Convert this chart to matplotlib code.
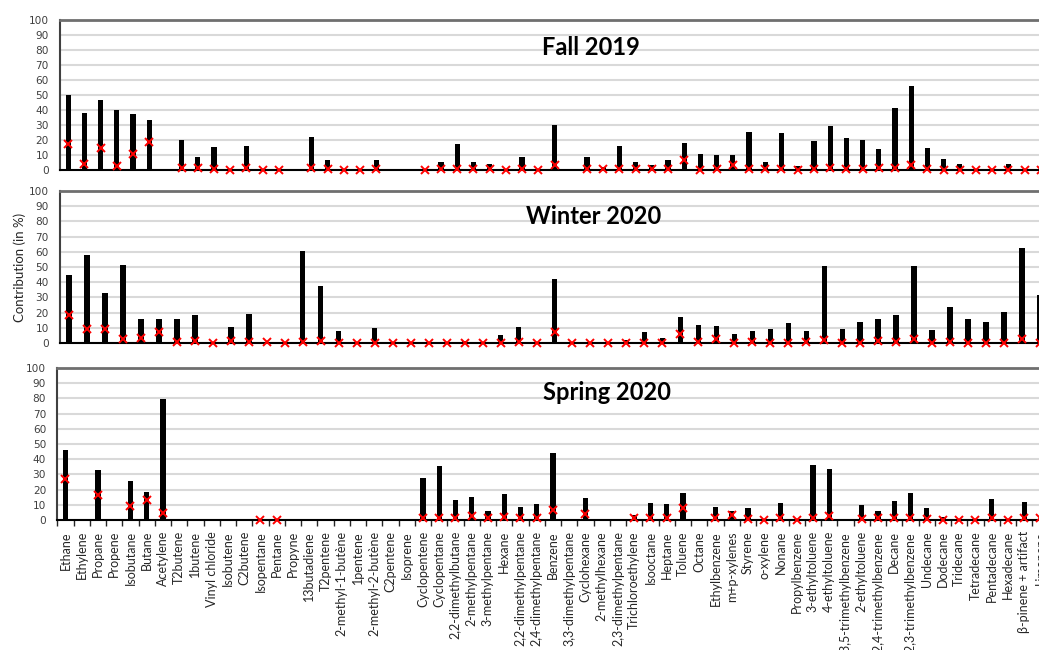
import numpy as np
import matplotlib
matplotlib.use('Agg')
import matplotlib.pyplot as plt

nan = np.nan

# species names (shown under the bottom panel)
species = ['Ethane', 'Ethylene', 'Propane', 'Propene', 'Isobutane', 'Butane', 'Acetylene',
           'T2butene', '1butene', 'Vinyl chloride', 'Isobutene', 'C2butene', 'Isopentane',
           'Pentane', 'Propyne', '13butadiene', 'T2pentene', '2-methyl-1-butène', '1pentene',
           '2-methyl-2-butène', 'C2pentene', 'Isoprene', 'Cyclopentene', 'Cyclopentane',
           '2,2-dimethylbutane', '2-methylpentane', '3-methylpentane', 'Hexane',
           '2,2-dimethylpentane', '2,4-dimethylpentane', 'Benzene', '3,3-dimethylpentane',
           'Cyclohexane', '2-methylhexane', '2,3-dimethylpentane', 'Trichloroethylene',
           'Isooctane', 'Heptane', 'Toluene', 'Octane', 'Ethylbenzene', 'm+p-xylenes',
           'Styrene', 'o-xylene', 'Nonane', 'Propylbenzene', '3-ethyltoluene', '4-ethyltoluene',
           '1,3,5-trimethylbenzene', '2-ethyltoluene', '1,2,4-trimethylbenzene', 'Decane',
           '1,2,3-trimethylbenzene', 'Undecane', 'Dodecane', 'Tridecane', 'Tetradecane',
           'Pentadecane', 'Hexadecane', 'β-pinene + artifact', 'Limonene']

# Fall 2019 : bars + red crosses
fall_bar = [50, 37.5, 46.4, 40, 37, 33, nan, 20, 8.5, 15.2, 0, 16, 0, 0, nan, 22, 6.5, 0, 0,
            6.5, nan, nan, 0, 4.7, 17, 4.7, 3.6, 0, 8.5, 0, 29.5, nan, 8.5, 2, 16, 4.7, 3.3,
            6.5, 17.9, 10.3, 9.8, 9.4, 24.8, 4.7, 24.3, 2.2, 18.8, 28.8, 20.8, 19.9, 13.4,
            41.3, 55.8, 14.5, 6.9, 3.8, 0, 0, 3.8, 0, 0]
fall_x = [17, 3.6, 14.5, 2.2, 10.3, 18.5, nan, 0.7, 0.7, 0.3, 0, 0.7, 0, 0, nan, 0.8, 0.3, 0, 0,
          0.3, nan, nan, 0, 0.3, 0.5, 0.5, 0.3, 0, 0.5, 0, 3, nan, 0.3, 0.3, 0.3, 0.3, 0.3,
          0.3, 6.3, 0, 0.3, 2.7, 0.3, 0.5, 0.3, 0, 0.3, 1, 0.3, 0.3, 0.8,
          0.8, 2.7, 0.3, 0, 0, 0, 0, 0, 0, 0]

# Winter 2020
winter_bar = [45, 57.6, 32.7, 51.2, 15.6, 15.6, 16, 18.5, 0, 10.3, 18.9, 0, 0, 60.2, 37.8, 7.7,
              0, 9.9, 0, 0, 0, 0, 1, 0, 5.3, 10.5, 0, 42.4, 0, 0, 0, 2.2, 7.3, 3.1, 17.4, 11.9,
              11, 5.7, 8.1, 9, 13.4, 8.1, 50.8, 9.5, 13.6, 16, 18.2, 50.8, 8.6, 23.7, 15.6,
              13.6, 20.7, 62.4, 31.4]
winter_x = [18.5, 9.2, 9.2, 2.6, 3.5, 7.3, 0.7, 1.1, 0, 1.1, 0.7, 0.5, 0, 0.7, 1.1, 0,
            0, 0, 0, 0, 0, 0, 0.3, 0, 0, 0.5, 0, 7, 0, 0, 0, 0, 0, 0, 6.2, 0.7,
            2.9, 0, 0.7, 0, 0, 0.7, 2.2, 0, 0, 1.5, 0.7, 2.4, 0, 0.7, 0,
            0, 0, 2.4, 0]

# Spring 2020
spring_bar = [45.9, nan, 32.7, nan, 25.5, 18.2, 79.6, nan, nan, nan, nan, nan, 0, 0, nan, nan,
              nan, nan, nan, nan, nan, nan, 27.9, 35.2, 13.4, 15.4, 5.7, 17.1, 8.6, 10.3, 44.4,
              nan, 14.3, nan, nan, 3.1, 11, 10.8, 18, nan, 8.6, 5.7, 8.1, 0, 11.2, 0, 36, 33.8,
              nan, 9.9, 5.7, 12.5, 18, 7.7, 2, 0, 0, 14, 0, 11.6, 0]
spring_x = [27, nan, 16.3, nan, 9, 13, 4.6, nan, nan, nan, nan, nan, 0, 0, nan, nan,
            nan, nan, nan, nan, nan, nan, 1.1, 1.5, 1.5, 2.9, 1.1, 2.2, 1.1, 1.1, 6.4,
            nan, 3.7, nan, nan, 1.1, 1.1, 1.1, 7.7, nan, 1.1, 3.1, 0.7, 0, 1.1, 0, 1.5, 2.6,
            nan, 0.7, 1.1, 1.5, 1.5, 0.7, 0, 0, 0, 1.1, 0, 1.1, 1]

W, H = 1039, 650
fig = plt.figure(figsize=(W / 100, H / 100), dpi=100)


def panel(left, top, right, bottom, bars, crosses, titre, tx, ty, bw):
    ax = fig.add_axes([left / W, (H - bottom) / H, (right - left) / W, (bottom - top) / H])
    n = len(bars)
    x = np.arange(n)
    ax.bar(x, np.nan_to_num(bars), width=bw, color='black', zorder=3)
    ax.plot(x, crosses, ls='none', marker='x', color='#ff0000', ms=5.5, mew=1.4, zorder=4,
            clip_on=False)
    ax.set_xlim(-0.5, n - 0.5)
    ax.set_ylim(0, 100)
    ax.set_yticks(range(0, 101, 10))
    ax.yaxis.grid(True, color='#d9d9d9', lw=1.5, zorder=0)
    ax.set_axisbelow(True)
    ax.tick_params(axis='y', length=0, pad=8, labelsize=7.6, labelcolor='#404040')
    for lab in ax.get_yticklabels():
        lab.set_fontfamily('DejaVu Sans')
    ax.spines['right'].set_visible(False)
    ax.spines['top'].set_color('#6f6f6f')
    ax.spines['top'].set_linewidth(2)
    ax.spines['left'].set_color('#404040')
    ax.spines['left'].set_linewidth(1.5)
    ax.spines['bottom'].set_color('black')
    ax.spines['bottom'].set_linewidth(1.5)
    ax.text(tx, ty, titre, transform=ax.transAxes, ha='center', va='center',
            fontsize=17, fontweight='bold', family='Lato')
    return ax


ax1 = panel(60, 20, 1049, 169.5, fall_bar, fall_x, 'Fall 2019', 0.537, 0.819, 0.32)
ax1.set_xticks([])
ax2 = panel(60, 191, 1049, 343, winter_bar, winter_x, 'Winter 2020', 0.54, 0.829, 0.30)
ax2.set_xticks([])
ax2.set_ylabel('Contribution (in %)', family='Lato', fontsize=9.5, color='#262626', labelpad=2)
ax3 = panel(57.3, 368, 1048.6, 520, spring_bar, spring_x, 'Spring 2020', 0.5545, 0.836, 0.32)
ax3.set_xticks(np.arange(len(species)))
ax3.set_xticklabels(species, rotation=90, family='Lato', fontsize=9, color='#262626')
ax3.set_xticks(np.arange(len(species) + 1) - 0.5, minor=True)
ax3.tick_params(axis='x', which='major', length=0, pad=8)
ax3.tick_params(axis='x', which='minor', length=4, width=1, color='#262626')

fig.savefig('out.png', dpi=100)
